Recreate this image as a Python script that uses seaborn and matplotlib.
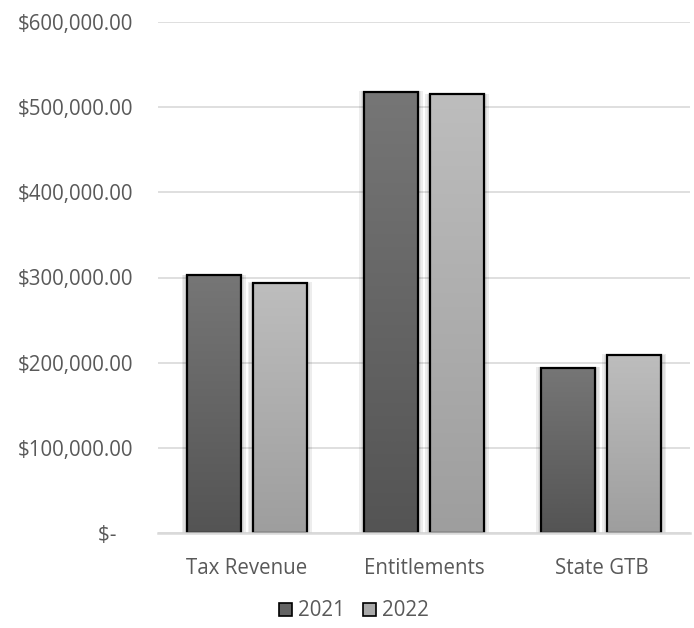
import numpy as np
import pandas as pd
import matplotlib
matplotlib.use("Agg")
import matplotlib.pyplot as plt
import seaborn as sns
from matplotlib.colors import LinearSegmentedColormap
from matplotlib.patches import Rectangle, Patch

categories = ["Tax Revenue", "Entitlements", "State GTB"]
values_2021 = [302500, 518000, 193800]
values_2022 = [293400, 515000, 208700]
years = ["2021", "2022"]
y_ticks = [0, 100000, 200000, 300000, 400000, 500000, 600000]
y_tick_labels = ["$-   ", "$100,000.00", "$200,000.00", "$300,000.00",
                 "$400,000.00", "$500,000.00", "$600,000.00"]

df = pd.DataFrame({
    "category": categories * 2,
    "year": [years[0]] * 3 + [years[1]] * 3,
    "value": values_2021 + values_2022,
})

# top / bottom shades of the vertical gradient for each year
gradients = {"2021": ("#767676", "#545454"), "2022": ("#bdbdbd", "#9e9e9e")}

sns.set_theme(style="white")
plt.rcParams["font.family"] = ["Open Sans", "DejaVu Sans"]
text_color = "#595959"
fs = 14.8

fig = plt.figure(figsize=(6.94, 6.28), dpi=100)
ax = fig.add_axes([158 / 694, (628 - 533) / 628, (690 - 158) / 694, 511 / 628])

sns.barplot(data=df, x="category", y="value", hue="year", ax=ax,
            palette={y: gradients[y][0] for y in years},
            width=0.745, gap=0.18, edgecolor="black", linewidth=1.6,
            legend=False, zorder=3)

ax.set_ylim(0, 600000)
ax.set_xlim(-0.5, 2.5)
ax.set_yticks(y_ticks)
ax.set_yticklabels(y_tick_labels)
ax.set_xlabel("")
ax.set_ylabel("")
ax.yaxis.grid(True, color="#d9d9d9", linewidth=1.2, zorder=0)
ax.set_axisbelow(True)
for side in ["top", "right", "left"]:
    ax.spines[side].set_visible(False)
ax.spines["bottom"].set_color("#d9d9d9")
ax.spines["bottom"].set_linewidth(1.8)
ax.spines["bottom"].set_zorder(5)
ax.tick_params(axis="both", length=0, labelsize=fs, colors=text_color)
ax.tick_params(axis="y", pad=18)
ax.tick_params(axis="x", pad=18)

# vertical gradient fill plus soft shadow for each bar
bars = [p for p in ax.patches if isinstance(p, Rectangle)]
for i, bar in enumerate(bars):
    year = years[i // len(categories)]
    top_c, bot_c = gradients[year]
    cmap = LinearSegmentedColormap.from_list("g" + year, [bot_c, top_c])
    x0, y0 = bar.get_x(), bar.get_y()
    w, h = bar.get_width(), bar.get_height()
    grad = np.linspace(0, 1, 256).reshape(-1, 1)
    im = ax.imshow(grad, cmap=cmap, origin="lower", aspect="auto",
                   extent=[x0, x0 + w, y0, y0 + h], zorder=2.5)
    im.set_clip_path(bar)
    bar.set_facecolor("none")
    for k, a in zip([0.06, 0.04, 0.02], [0.07, 0.06, 0.05]):
        ax.add_patch(Rectangle((x0 - k / 2.2, y0), w + k / 1.1, h + k * 16000,
                               facecolor="black", alpha=a, edgecolor="none",
                               zorder=2))

ax.set_xlim(-0.5, 2.5)
ax.set_ylim(0, 600000)

handles = [Patch(facecolor="#636363", edgecolor="black", linewidth=1.2),
           Patch(facecolor="#aaaaaa", edgecolor="black", linewidth=1.2)]
fig.legend(handles, years, loc="center", bbox_to_anchor=(0.51, 17 / 628),
           ncol=2, frameon=False, fontsize=fs, labelcolor=text_color,
           handlelength=0.6, handleheight=0.6, handletextpad=0.3,
           columnspacing=0.9)

fig.savefig("out.png", dpi=100, facecolor="white")
